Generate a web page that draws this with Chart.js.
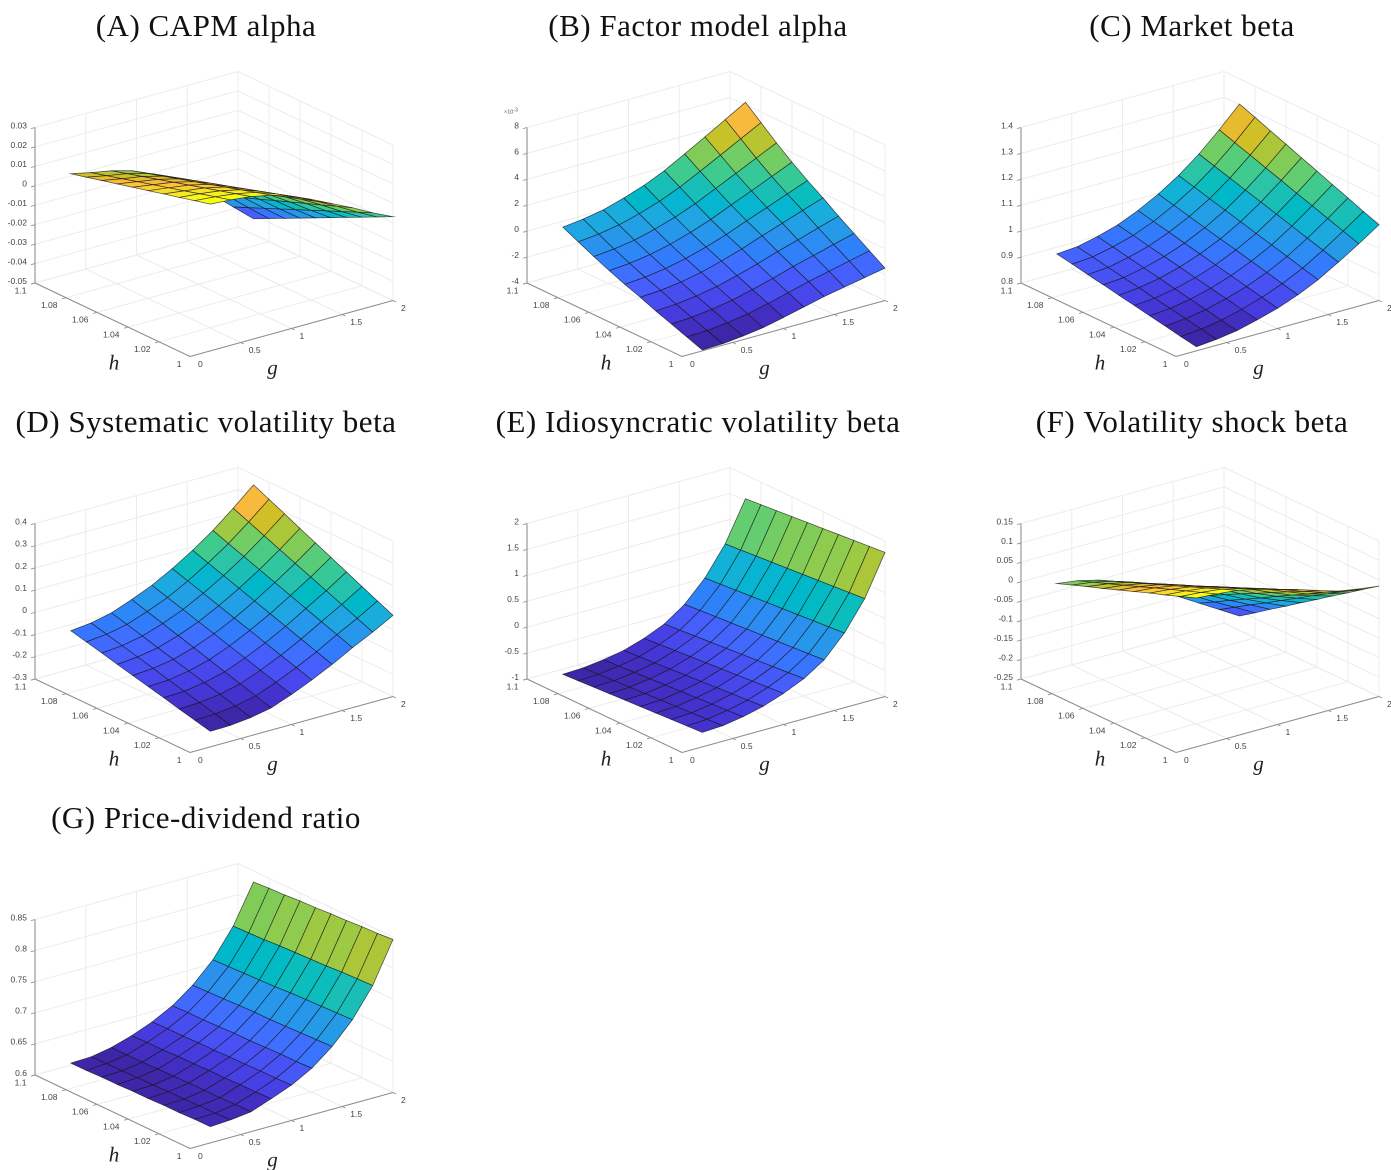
<!DOCTYPE html>
<html>
<head>
<meta charset="utf-8">
<title>Surfaces</title>
<script src="https://cdn.jsdelivr.net/npm/chart.js@4"></script>
<style>
  html, body { margin: 0; padding: 0; background: #fff; overflow: hidden; width: 1391px; height: 1170px; }
  canvas { position: absolute; }
</style>
</head>
<body>
<script>
const gValues = [0.2, 0.4, 0.6, 0.8, 1, 1.2, 1.4, 1.6, 1.8, 2]
const hValues = [1, 1.01, 1.02, 1.03, 1.04, 1.05, 1.06, 1.07, 1.08, 1.09]
const gTicks = [0, 0.5, 1, 1.5, 2]
const hTicks = [1, 1.02, 1.04, 1.06, 1.08, 1.1]

// one row per h, one column per g
const capmAlpha = [
  [.0255, .0248, .0236, .0215, .0180, .0135, .0085, .0035, -.0020, -.0069],
  [.0235, .0226, .0213, .0191, .0155, .0110, .0059, .0005, -.0054, -.0108],
  [.0214, .0204, .0190, .0167, .0130, .0084, .0032, -.0026, -.0089, -.0147],
  [.0194, .0181, .0167, .0143, .0105, .0059, .0006, -.0056, -.0123, -.0186],
  [.0173, .0159, .0144, .0119, .0080, .0033, -.0021, -.0087, -.0158, -.0225],
  [.0153, .0137, .0121, .0095, .0056, .0008, -.0047, -.0117, -.0192, -.0264],
  [.0132, .0115, .0098, .0072, .0031, -.0018, -.0074, -.0148, -.0227, -.0303],
  [.0112, .0092, .0075, .0048, .0006, -.0043, -.0100, -.0178, -.0261, -.0342],
  [.0091, .0070, .0052, .0024, -.0019, -.0069, -.0127, -.0209, -.0296, -.0381],
  [.0071, .0048, .0029, .0000, -.0044, -.0094, -.0153, -.0239, -.0330, -.0420]
]
// in units of 10^-3, as on the axis
const factorAlpha = [
  [-3.93, -3.88, -3.72, -3.50, -3.15, -2.78, -2.40, -2.10, -1.80, -1.50],
  [-3.49, -3.43, -3.26, -3.01, -2.64, -2.24, -1.81, -1.45, -1.09, -.73],
  [-3.05, -2.98, -2.79, -2.52, -2.13, -1.70, -1.22, -.80, -.38, .04],
  [-2.62, -2.53, -2.33, -2.03, -1.62, -1.15, -.63, -.16, .33, .81],
  [-2.13, -2.03, -1.82, -1.50, -1.06, -.56, .02, .56, 1.11, 1.65],
  [-1.70, -1.58, -1.35, -1.01, -.55, -.02, .61, 1.20, 1.82, 2.42],
  [-1.21, -1.08, -.84, -.47, .01, .58, 1.26, 1.92, 2.60, 3.27],
  [-.69, -.54, -.29, .12, .62, 1.23, 1.97, 2.70, 3.45, 4.19],
  [-.12, .04, .32, .75, 1.28, 1.94, 2.73, 3.54, 4.37, 5.19],
  [.45, .63, .92, 1.39, 1.94, 2.64, 3.50, 4.38, 5.29, 6.19]
]
const marketBeta = [
  [.816, .823, .835, .855, .878, .908, .945, .991, 1.040, 1.092],
  [.827, .834, .847, .867, .892, .923, .961, 1.009, 1.061, 1.115],
  [.839, .846, .859, .880, .905, .938, .978, 1.027, 1.081, 1.139],
  [.850, .857, .871, .892, .919, .953, .994, 1.045, 1.102, 1.162],
  [.862, .868, .883, .904, .932, .968, 1.010, 1.063, 1.122, 1.186],
  [.873, .880, .895, .917, .946, .982, 1.027, 1.081, 1.143, 1.209],
  [.885, .891, .907, .929, .959, .997, 1.043, 1.099, 1.163, 1.233],
  [.896, .902, .919, .941, .973, 1.012, 1.059, 1.117, 1.184, 1.256],
  [.908, .914, .931, .954, .986, 1.027, 1.076, 1.135, 1.204, 1.280],
  [.919, .925, .943, .966, 1.000, 1.042, 1.092, 1.153, 1.225, 1.303]
]
const systematicBeta = [
  [-.230, -.228, -.218, -.200, -.165, -.125, -.080, -.030, .015, .065],
  [-.213, -.210, -.199, -.179, -.143, -.102, -.056, -.004, .044, .097],
  [-.196, -.192, -.180, -.158, -.122, -.080, -.032, .021, .073, .129],
  [-.178, -.174, -.160, -.137, -.100, -.057, -.008, .047, .102, .162],
  [-.161, -.156, -.141, -.116, -.079, -.034, .016, .072, .131, .194],
  [-.144, -.137, -.122, -.094, -.057, -.012, .040, .098, .159, .226],
  [-.127, -.119, -.103, -.073, -.036, .011, .064, .123, .188, .258],
  [-.109, -.101, -.083, -.052, -.014, .034, .088, .149, .217, .291],
  [-.092, -.083, -.064, -.031, .007, .056, .112, .174, .246, .323],
  [-.075, -.065, -.045, -.010, .029, .079, .136, .200, .275, .355]
]
const idioBeta = [
  [-.720, -.700, -.635, -.540, -.400, -.225, .030, .440, .995, 1.780],
  [-.737, -.718, -.654, -.562, -.424, -.249, .007, .416, .971, 1.753],
  [-.754, -.736, -.674, -.584, -.448, -.274, -.016, .392, .946, 1.727],
  [-.772, -.753, -.693, -.607, -.472, -.298, -.038, .368, .922, 1.700],
  [-.789, -.771, -.713, -.629, -.496, -.323, -.061, .344, .897, 1.673],
  [-.806, -.789, -.732, -.651, -.519, -.347, -.084, .321, .873, 1.647],
  [-.823, -.807, -.752, -.673, -.543, -.372, -.107, .297, .848, 1.620],
  [-.841, -.824, -.771, -.696, -.567, -.396, -.129, .273, .824, 1.593],
  [-.858, -.842, -.791, -.718, -.591, -.421, -.152, .249, .799, 1.567],
  [-.875, -.860, -.810, -.740, -.615, -.445, -.175, .225, .775, 1.540]
]
const shockBeta = [
  [.133, .129, .124, .112, .098, .083, .066, .050, .041, .034],
  [.118, .114, .108, .095, .081, .064, .045, .028, .016, .007],
  [.103, .099, .092, .079, .063, .046, .025, .005, -.009, -.021],
  [.089, .084, .076, .062, .046, .027, .004, -.017, -.033, -.048],
  [.074, .069, .060, .045, .029, .008, -.017, -.039, -.058, -.076],
  [.059, .053, .044, .029, .011, -.010, -.037, -.062, -.083, -.103],
  [.044, .038, .028, .012, -.006, -.029, -.058, -.084, -.108, -.131],
  [.030, .023, .012, -.005, -.023, -.048, -.079, -.106, -.132, -.158],
  [.015, .008, -.004, -.021, -.041, -.066, -.099, -.129, -.157, -.186],
  [.000, -.007, -.020, -.038, -.058, -.085, -.120, -.151, -.182, -.213]
]
const priceDividend = [
  [.626, .628, .632, .644, .657, .675, .701, .735, .781, .846],
  [.626, .627, .632, .643, .656, .674, .700, .734, .780, .844],
  [.625, .627, .631, .643, .656, .674, .699, .733, .779, .843],
  [.625, .626, .631, .642, .655, .673, .698, .732, .777, .841],
  [.624, .626, .631, .642, .655, .672, .697, .731, .776, .840],
  [.624, .625, .630, .641, .654, .672, .697, .729, .775, .838],
  [.623, .625, .630, .641, .654, .671, .696, .728, .774, .837],
  [.623, .624, .629, .640, .653, .670, .695, .727, .772, .835],
  [.622, .624, .629, .640, .653, .670, .694, .726, .771, .834],
  [.622, .623, .629, .639, .652, .669, .693, .725, .770, .832]
]

const zTicksA = [-.05, -.04, -.03, -.02, -.01, 0, .01, .02, .03]
const zTicksB = [-4, -2, 0, 2, 4, 6, 8]
const zTicksC = [.8, .9, 1, 1.1, 1.2, 1.3, 1.4]
const zTicksD = [-.3, -.2, -.1, 0, .1, .2, .3, .4]
const zTicksE = [-1, -.5, 0, .5, 1, 1.5, 2]
const zTicksF = [-.25, -.2, -.15, -.1, -.05, 0, .05, .1, .15]
const zTicksG = [.6, .65, .7, .75, .8, .85]

const panels = [
  { title: '(A) CAPM alpha', z: capmAlpha, ticks: zTicksA, left: 0, top: 0 },
  { title: '(B) Factor model alpha', z: factorAlpha, ticks: zTicksB, left: 492, top: 0, exponent: true },
  { title: '(C) Market beta', z: marketBeta, ticks: zTicksC, left: 986, top: 0 },
  { title: '(D) Systematic volatility beta', z: systematicBeta, ticks: zTicksD, left: 0, top: 396 },
  { title: '(E) Idiosyncratic volatility beta', z: idioBeta, ticks: zTicksE, left: 492, top: 396 },
  { title: '(F) Volatility shock beta', z: shockBeta, ticks: zTicksF, left: 986, top: 396 },
  { title: '(G) Price-dividend ratio', z: priceDividend, ticks: zTicksG, left: 0, top: 792 }
]

// parula, 64 steps
const parula = [
  [.2422,.1504,.6603],[.2504,.1650,.7076],[.2578,.1818,.7511],[.2647,.1978,.7952],[.2706,.2147,.8364],[.2751,.2342,.8710],
  [.2783,.2559,.8991],[.2803,.2782,.9221],[.2813,.3006,.9414],[.2810,.3228,.9579],[.2795,.3447,.9717],[.2760,.3667,.9829],
  [.2699,.3892,.9906],[.2602,.4123,.9952],[.2440,.4358,.9988],[.2206,.4603,.9973],[.1963,.4847,.9892],[.1834,.5074,.9798],
  [.1786,.5289,.9682],[.1764,.5499,.9520],[.1687,.5703,.9359],[.1540,.5902,.9218],[.1460,.6091,.9079],[.1380,.6276,.8973],
  [.1248,.6459,.8883],[.1113,.6635,.8763],[.0952,.6798,.8598],[.0689,.6948,.8394],[.0297,.7082,.8163],[.0036,.7203,.7917],
  [.0067,.7312,.7660],[.0433,.7411,.7394],[.0964,.7500,.7120],[.1408,.7584,.6842],[.1717,.7670,.6554],[.1938,.7758,.6251],
  [.2161,.7843,.5923],[.2470,.7918,.5567],[.2906,.7973,.5188],[.3406,.8008,.4789],[.3909,.8029,.4354],[.4456,.8024,.3909],
  [.5044,.7993,.3480],[.5616,.7942,.3045],[.6174,.7876,.2612],[.6720,.7793,.2227],[.7242,.7698,.1910],[.7738,.7598,.1646],
  [.8203,.7498,.1535],[.8634,.7406,.1596],[.9035,.7330,.1774],[.9393,.7288,.2100],[.9728,.7298,.2394],[.9956,.7434,.2371],
  [.9970,.7659,.2199],[.9952,.7893,.2028],[.9892,.8136,.1885],[.9786,.8386,.1766],[.9676,.8639,.1643],[.9610,.8890,.1537],
  [.9597,.9135,.1423],[.9628,.9373,.1265],[.9691,.9606,.1064],[.9769,.9839,.0805]
]

const canvasW = 412, canvasH = 396, titleH = 58
const tickFont = '8.5px "Liberation Sans"'
const tickColor = '#444'

// 3d box to canvas units: view(-37.5, 21) of the axes box
const box = { x0: 190, y0: 356.5, gx: 203, gy: -56, hx: -155, hy: -73.5, zy: -155.5 }
const towardViewer = { g: -.568, h: -.741, z: .233 }

function fractions(g, h, z, ticks) {
  return [g / 2, (h - 1) / .1, (z - ticks[0]) / (ticks[ticks.length - 1] - ticks[0])]
}
function project(g, h, z, ticks) {
  const [u, v, w] = fractions(g, h, z, ticks)
  return { x: box.x0 + u * box.gx + v * box.hx, y: box.y0 + u * box.gy + v * box.hy + w * box.zy }
}
function depth(g, h, z, ticks) {
  const [u, v, w] = fractions(g, h, z, ticks)
  return u * towardViewer.g + v * towardViewer.h + w * towardViewer.z
}
function parulaColor(t) {
  const c = parula[Math.min(63, Math.floor(t * 64))]
  return 'rgb(' + c.map(v => Math.round(v * 255)).join(',') + ')'
}
function lineSet(points, color, width) {
  return { data: points, showLine: true, fill: false, borderColor: color, borderWidth: width, pointRadius: 0 }
}

function buildDatasets(p) {
  const t = p.ticks, zMin = t[0], zMax = t[t.length - 1]
  const grid = [], axes = [], cells = []
  const gridColor = '#ececec', axisColor = '#8c8c8c'

  t.forEach(z => {
    grid.push(lineSet([project(0, 1.1, z, t), project(2, 1.1, z, t), project(2, 1, z, t)], gridColor, 1))
    axes.push(lineSet([project(0, 1.1, z, t), project(-.04, 1.1, z, t)], axisColor, .8))
  })
  gTicks.forEach(g => {
    grid.push(lineSet([project(g, 1, zMin, t), project(g, 1.1, zMin, t), project(g, 1.1, zMax, t)], gridColor, 1))
    if (g > 0) axes.push(lineSet([project(g, 1, zMin, t), project(g, .998, zMin, t)], axisColor, .8))
  })
  hTicks.forEach(h => {
    grid.push(lineSet([project(0, h, zMin, t), project(2, h, zMin, t), project(2, h, zMax, t)], gridColor, 1))
    if (h > 1) axes.push(lineSet([project(0, h, zMin, t), project(-.04, h, zMin, t)], axisColor, .8))
  })
  axes.push(lineSet([project(0, 1.1, zMin, t), project(0, 1.1, zMax, t)], '#a0a0a0', 1.3))
  axes.push(lineSet([project(0, 1.1, zMin, t), project(0, 1, zMin, t), project(2, 1, zMin, t)], axisColor, 1))

  const flat = p.z.flat()
  const lo = Math.min(...flat), hi = Math.max(...flat)
  for (let j = 0; j < hValues.length - 1; j++) {
    for (let i = 0; i < gValues.length - 1; i++) {
      const corners = [[i, j], [i + 1, j], [i + 1, j + 1], [i, j + 1], [i, j]]
      const avg = corners.slice(0, 4).reduce((s, [a, b]) => s + depth(gValues[a], hValues[b], p.z[b][a], t), 0) / 4
      const color = parulaColor((p.z[j][i] - lo) / (hi - lo))
      cells.push({
        depth: avg,
        set: {
          data: corners.map(([a, b]) => project(gValues[a], hValues[b], p.z[b][a], t)),
          showLine: true, fill: 'shape', backgroundColor: color,
          borderColor: 'rgba(20,20,20,.75)', borderWidth: .7, pointRadius: 0
        }
      })
    }
  }
  // dataset 0 is painted last, so nearest cell goes first
  cells.sort((a, b) => b.depth - a.depth)
  return [...axes, ...cells.map(c => c.set), ...grid]
}

const labelPlugin = {
  id: 'boxLabels',
  beforeDraw(chart) {
    chart.ctx.letterSpacing = '0.5px'
  },
  beforeDatasetsDraw(chart) {
    chart.ctx.letterSpacing = '0px'
  },
  afterDraw(chart) {
    const p = chart.options.plugins.boxLabels.panel, t = p.ticks, zMin = t[0]
    const ctx = chart.ctx, sx = chart.scales.x, sy = chart.scales.y
    const put = (text, pt, dx, dy, align) => {
      ctx.textAlign = align
      ctx.fillText(text, sx.getPixelForValue(pt.x) + dx, sy.getPixelForValue(pt.y) + dy)
    }
    ctx.save()
    ctx.font = tickFont
    ctx.fillStyle = tickColor
    ctx.textBaseline = 'middle'
    t.forEach(z => put(String(z), project(0, 1.1, z, t), -8, -1.5, 'right'))
    gTicks.forEach(g => put(String(g), project(g, 1, zMin, t), 8, 8, 'left'))
    hTicks.forEach(h => put(String(h), project(0, h, zMin, t), -8.5, 8, 'right'))
    if (p.exponent) {
      ctx.fillStyle = '#555'
      ctx.textAlign = 'left'
      ctx.font = '5.5px "Liberation Sans"'
      ctx.fillText('\u00d710', 12, 112)
      ctx.font = '5px "Liberation Sans"'
      ctx.fillText('-3', 21.5, 110)
    }
    ctx.fillStyle = '#222'
    ctx.font = 'italic 21px "Liberation Serif"'
    ctx.textAlign = 'center'
    ctx.fillText('h', 114, 364)
    ctx.fillText('g', 272.5, 369)
    ctx.restore()
  }
}

panels.forEach(p => {
  const canvas = document.createElement('canvas')
  canvas.width = canvasW
  canvas.height = canvasH
  canvas.style.left = p.left + 'px'
  canvas.style.top = p.top + 'px'
  document.body.appendChild(canvas)
  new Chart(canvas.getContext('2d'), {
    type: 'scatter',
    data: { datasets: buildDatasets(p) },
    plugins: [labelPlugin],
    options: {
      responsive: false,
      animation: false,
      devicePixelRatio: 2,
      events: [],
      layout: { padding: 0 },
      scales: {
        x: { type: 'linear', display: false, min: 0, max: canvasW },
        y: { type: 'linear', display: false, min: titleH, max: canvasH, reverse: true }
      },
      plugins: {
        legend: { display: false },
        tooltip: { enabled: false },
        boxLabels: { panel: p },
        title: {
          display: true,
          text: p.title,
          color: '#111',
          font: { family: '"Liberation Serif"', size: 31, weight: 'normal', lineHeight: '32px' },
          padding: { top: 12, bottom: 14 }
        }
      }
    }
  })
})
</script>
</body>
</html>
